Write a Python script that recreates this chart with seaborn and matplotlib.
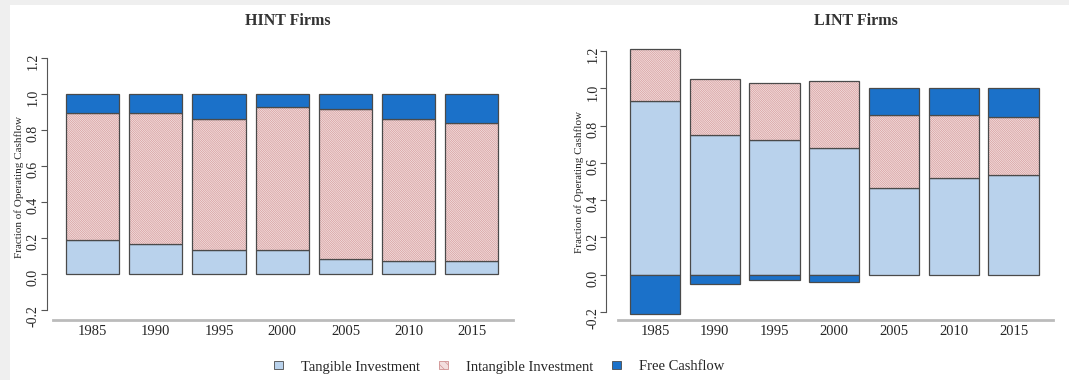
import numpy as np
import matplotlib
matplotlib.use("Agg")
import matplotlib.pyplot as plt
from matplotlib.patches import Patch, Rectangle
import seaborn as sns

# data
years = ["1985", "1990", "1995", "2000", "2005", "2010", "2015"]

hint_tangible = [0.19, 0.165, 0.135, 0.135, 0.085, 0.07, 0.07]
hint_intangible = [0.705, 0.73, 0.725, 0.795, 0.83, 0.79, 0.77]
hint_fcf = [0.105, 0.105, 0.14, 0.07, 0.085, 0.14, 0.16]

lint_tangible = [0.93, 0.75, 0.725, 0.68, 0.465, 0.52, 0.535]
lint_intangible = [0.28, 0.30, 0.305, 0.36, 0.39, 0.335, 0.31]
lint_fcf = [-0.21, -0.05, -0.03, -0.04, 0.145, 0.145, 0.155]

yticks = [-0.2, 0.0, 0.2, 0.4, 0.6, 0.8, 1.0, 1.2]

sns.set_style("white")
plt.rcParams['font.family'] = ['Liberation Serif', 'DejaVu Serif']
plt.rcParams['hatch.linewidth'] = 0.45

c_tan = '#b9d2ec'
c_fcf = '#1b71c9'
c_hatch = '#cf8f8f'
c_pink = '#fbf0f0'
c_edge = '#4a4a4a'
hatch = '\\' * 18

W, H = 1069, 380
fig = plt.figure(figsize=(W / 100, H / 100), dpi=100)
fig.patch.set_facecolor('#efefef')
fig.patches.append(Rectangle((10 / W, 0), 1, 1 - 5 / H, transform=fig.transFigure,
                             facecolor='white', edgecolor='none', zorder=-10))


def px_axes(x0, x1, ytop, ybot):
    return fig.add_axes([x0 / W, 1 - ybot / H, (x1 - x0) / W, (ybot - ytop) / H])


def draw_panel(ax, tang, intang, fcf, xlim, ylim, ypad, lpad):
    tang = np.array(tang)
    intang = np.array(intang)
    fcf = np.array(fcf)
    top = tang + intang
    fcf_bottom = np.where(fcf > 0, top, 0.0)

    sns.barplot(x=years, y=tang, ax=ax, color=c_tan, saturation=1, width=0.84,
                edgecolor=c_edge, linewidth=0.9)
    sns.barplot(x=years, y=intang, bottom=tang, ax=ax, color=c_pink, saturation=1,
                width=0.84, hatch=hatch, edgecolor=c_hatch, linewidth=0)
    sns.barplot(x=years, y=intang, bottom=tang, ax=ax, color=c_edge, fill=False,
                saturation=1, width=0.84, linewidth=0.9)
    sns.barplot(x=years, y=fcf, bottom=fcf_bottom, ax=ax, color=c_fcf, saturation=1,
                width=0.84, edgecolor=c_edge, linewidth=0.9)

    ax.set_xlim(*xlim)
    ax.set_ylim(*ylim)
    ax.set_yticks(yticks)
    ax.set_yticklabels([f"{t:.1f}" for t in yticks], fontsize=9.5)
    ax.tick_params(axis='y', left=True, length=4, width=0.8, color='#555555', pad=lpad,
                   labelrotation=90)
    for lab in ax.get_yticklabels():
        lab.set_va('center')
    ax.tick_params(axis='x', bottom=False, labelsize=10.5, pad=0)
    for s in ['top', 'right']:
        ax.spines[s].set_visible(False)
    ax.spines['left'].set_bounds(-0.2, 1.2)
    ax.spines['left'].set_position(('outward', ypad))
    ax.spines['left'].set_color('#555555')
    ax.spines['left'].set_linewidth(0.8)
    ax.spines['bottom'].set_color('#bbbbbb')
    ax.spines['bottom'].set_linewidth(2)
    ax.set_xlabel('')
    ax.set_ylabel('Fraction of Operating Cashflow', fontsize=8, labelpad=2)


ax1 = px_axes(53, 513, 53, 320)
draw_panel(ax1, hint_tangible, hint_intangible, hint_fcf, (-0.625, 6.65), (-0.256, 1.228), 4, 1.5)
fig.text(288 / W, 1 - 21 / H, 'HINT Firms', ha='center', va='center', fontsize=11.5,
         fontweight='bold', color='#333333')

ax2 = px_axes(618, 1053, 45, 320)
draw_panel(ax2, lint_tangible, lint_intangible, lint_fcf, (-0.62, 6.66), (-0.243, 1.232), 9, 0)
fig.text(856 / W, 1 - 21 / H, 'LINT Firms', ha='center', va='center', fontsize=11.5,
         fontweight='bold', color='#333333')

handles = [
    Patch(facecolor=c_tan, edgecolor=c_edge, linewidth=0.6, label='Tangible Investment'),
    Patch(facecolor='#f3dede', edgecolor=c_hatch, hatch='\\\\\\\\', linewidth=0.6,
          label='Intangible Investment'),
    Patch(facecolor=c_fcf, edgecolor=c_edge, linewidth=0.6, label='Free Cashflow'),
]
fig.legend(handles=handles, loc='center', bbox_to_anchor=(499 / W, 1 - 367 / H), ncol=3,
           frameon=False, fontsize=10.5, handlelength=0.65, handleheight=0.45,
           columnspacing=1.3, handletextpad=1.2)

fig.savefig('out.png', dpi=100, facecolor=fig.get_facecolor())
